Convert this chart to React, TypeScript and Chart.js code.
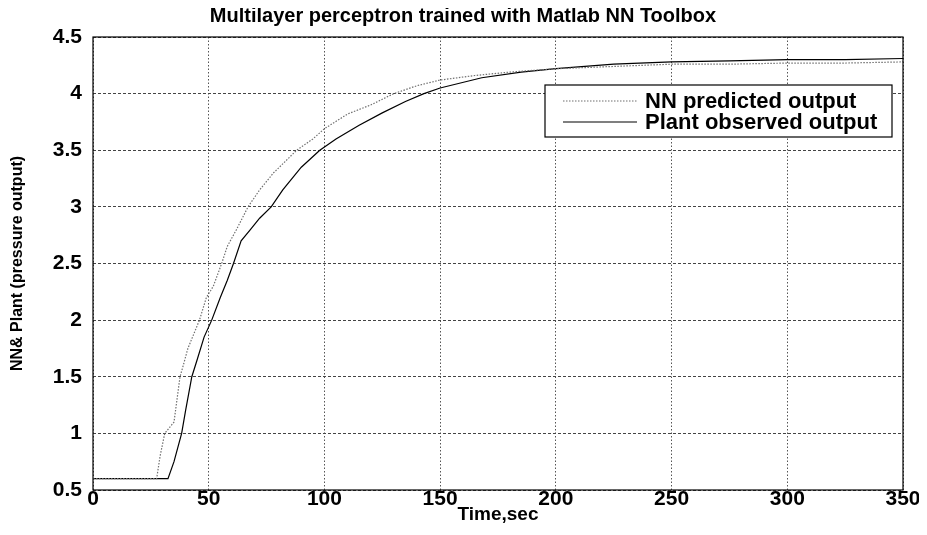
import React, { useEffect, useRef } from 'react';
import { Chart, registerables } from 'chart.js';

Chart.register(...registerables);

const titleText = 'Multilayer perceptron trained with Matlab NN Toolbox';
const xAxisLabel = 'Time,sec';
const yAxisLabel = 'NN& Plant (pressure output)';
const seriesNames = ['NN predicted output', 'Plant observed output'];

const xTicks = [0, 50, 100, 150, 200, 250, 300, 350];
const yTicks = [0.5, 1, 1.5, 2, 2.5, 3, 3.5, 4, 4.5];

const nnTime = [0, 27.5, 29, 31, 33, 35, 37.6, 39, 41, 44, 46, 49, 52, 55.6, 58, 62, 67, 72, 78, 83, 88, 95, 100, 110, 120, 130, 140, 150, 165, 180, 200, 225, 250, 275, 300, 325, 350];
const nnValues = [0.6, 0.6, 0.8, 1.0, 1.05, 1.1, 1.5, 1.6, 1.75, 1.9, 2.0, 2.2, 2.3, 2.5, 2.65, 2.8, 3.0, 3.15, 3.3, 3.4, 3.5, 3.6, 3.69, 3.82, 3.9, 4.0, 4.07, 4.12, 4.16, 4.19, 4.22, 4.24, 4.26, 4.26, 4.27, 4.27, 4.28];

const plantTime = [0, 32.4, 35, 38.3, 40, 42.7, 45, 48, 51.3, 55, 58, 60.7, 64, 68, 72, 77, 82, 90, 98, 105, 115, 125, 135, 143, 150, 168, 185, 200, 225, 250, 275, 300, 325, 350];
const plantValues = [0.6, 0.6, 0.75, 1.0, 1.2, 1.5, 1.65, 1.85, 2.0, 2.2, 2.35, 2.5, 2.7, 2.8, 2.9, 3.0, 3.15, 3.35, 3.5, 3.6, 3.72, 3.83, 3.93, 4.0, 4.05, 4.14, 4.19, 4.22, 4.26, 4.28, 4.29, 4.3, 4.3, 4.31];

const FONT = '"Liberation Sans", Arial, Helvetica, sans-serif';

const nnStyle = { color: '#6f6f6f', dash: [1.5, 1.5], width: 1.2 };
const plantStyle = { color: '#000000', dash: [] as number[], width: 1.2 };

const boxPlugin = {
  id: 'axesBox',
  afterDatasetsDraw(chart: any) {
    const { ctx, chartArea } = chart;
    ctx.save();
    ctx.strokeStyle = '#000';
    ctx.lineWidth = 1.2;
    ctx.setLineDash([]);
    ctx.strokeRect(chartArea.left, chartArea.top, chartArea.right - chartArea.left, chartArea.bottom - chartArea.top);
    ctx.restore();
  },
};

const legendPlugin = {
  id: 'matlabLegend',
  afterDraw(chart: any) {
    const { ctx, chartArea } = chart;
    const left = chartArea.right - 358;
    const top = chartArea.top + 48;
    const w = 347;
    const h = 52;
    ctx.save();
    ctx.fillStyle = '#fff';
    ctx.fillRect(left, top, w, h);
    ctx.strokeStyle = '#000';
    ctx.lineWidth = 1.2;
    ctx.setLineDash([]);
    ctx.strokeRect(left, top, w, h);
    const styles = [nnStyle, plantStyle];
    const rows = [top + 16, top + 37];
    ctx.font = 'bold 22px ' + FONT;
    ctx.textAlign = 'left';
    ctx.textBaseline = 'middle';
    seriesNames.forEach((name, i) => {
      const s = styles[i];
      ctx.beginPath();
      ctx.strokeStyle = s.color;
      ctx.lineWidth = s.width;
      ctx.setLineDash(s.dash);
      ctx.moveTo(left + 18, rows[i]);
      ctx.lineTo(left + 92, rows[i]);
      ctx.stroke();
      ctx.setLineDash([]);
      ctx.fillStyle = '#000';
      ctx.fillText(name, left + 100, rows[i] + 1);
    });
    ctx.restore();
  },
};

export default function App() {
  const ref = useRef<HTMLCanvasElement | null>(null);

  useEffect(() => {
    document.documentElement.style.overflow = 'hidden';
    if (!ref.current) return;
    const chart = new Chart(ref.current, {
      type: 'line',
      data: {
        datasets: [
          {
            label: seriesNames[0],
            data: nnTime.map((t, i) => ({ x: t, y: nnValues[i] })),
            borderColor: nnStyle.color,
            borderWidth: nnStyle.width,
            borderDash: nnStyle.dash,
            pointRadius: 0,
            tension: 0,
            fill: false,
          },
          {
            label: seriesNames[1],
            data: plantTime.map((t, i) => ({ x: t, y: plantValues[i] })),
            borderColor: plantStyle.color,
            borderWidth: plantStyle.width,
            pointRadius: 0,
            tension: 0,
            fill: false,
          },
        ],
      },
      options: {
        responsive: false,
        animation: false,
        layout: { padding: { left: 15, top: 0, bottom: 0, right: 24 }, autoPadding: false },
        plugins: {
          legend: { display: false },
          tooltip: { enabled: false },
          title: {
            display: true,
            text: titleText,
            color: '#000',
            font: { family: FONT, size: 20, weight: 'bold', lineHeight: 1.2 },
            padding: { top: -3.5, bottom: 8.5 },
          },
        },
        scales: {
          x: {
            type: 'linear',
            min: 0,
            max: 350,
            afterBuildTicks: (scale: any) => {
              scale.ticks = xTicks.map((v) => ({ value: v }));
            },
            afterFit: (scale: any) => {
              scale.height = 37;
              scale.paddingLeft = 0;
              scale.paddingRight = 0;
            },
            ticks: {
              color: '#000',
              padding: -3,
              maxRotation: 0,
              autoSkip: false,
              font: { family: FONT, size: 21, weight: 'bold' },
              callback: (v: any) => String(v),
            },
            grid: { color: '#555', lineWidth: 1, drawTicks: false },
            border: { display: false, dash: [1.5, 2] },
            title: {
              display: true,
              text: xAxisLabel,
              color: '#000',
              font: { family: FONT, size: 19, weight: 'bold', lineHeight: 1.2 },
              padding: { top: 0, bottom: 0.5 },
            },
          },
          y: {
            type: 'linear',
            min: 0.5,
            max: 4.5,
            afterBuildTicks: (scale: any) => {
              scale.ticks = yTicks.map((v) => ({ value: v }));
            },
            afterFit: (scale: any) => {
              scale.width = 70;
              scale.paddingTop = 0;
              scale.paddingBottom = 0;
            },
            ticks: {
              color: '#000',
              padding: 11,
              autoSkip: false,
              font: { family: FONT, size: 21, weight: 'bold' },
              callback: (v: any) => String(v),
            },
            grid: { color: '#444', lineWidth: 1, drawTicks: false },
            border: { display: false, dash: [3, 2] },
            title: {
              display: true,
              text: yAxisLabel,
              color: '#000',
              font: { family: FONT, size: 16, weight: 'bold', lineHeight: 1.2 },
              padding: { top: -14.6, bottom: 0 },
            },
          },
        },
      } as any,
      plugins: [boxPlugin, legendPlugin],
    });
    return () => chart.destroy();
  }, []);

  return (
    <div style={{ width: 911, height: 519 }}>
      <canvas ref={ref} width={919} height={519} style={{ display: 'block' }} />
    </div>
  );
}
